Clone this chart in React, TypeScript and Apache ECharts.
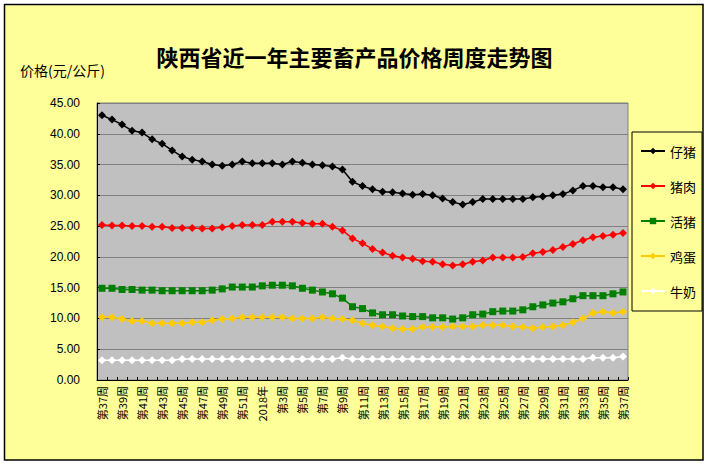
import React, { useEffect, useRef } from "react";
import * as echarts from "echarts";

const categories = [
  "第37周", "第38周", "第39周", "第40周", "第41周", "第42周", "第43周", "第44周",
  "第45周", "第46周", "第47周", "第48周", "第49周", "第50周", "第51周", "第52周",
  "2018年", "第2周", "第3周", "第4周", "第5周", "第6周", "第7周", "第8周",
  "第9周", "第10周", "第11周", "第12周", "第13周", "第14周", "第15周", "第16周",
  "第17周", "第18周", "第19周", "第20周", "第21周", "第22周", "第23周", "第24周",
  "第25周", "第26周", "第27周", "第28周", "第29周", "第30周", "第31周", "第32周",
  "第33周", "第34周", "第35周", "第36周", "第37周",
];

const piglet = [
  43.0, 42.3, 41.5, 40.5, 40.2, 39.1, 38.4, 37.3, 36.3, 35.8,
  35.5, 35.0, 34.8, 35.0, 35.5, 35.2, 35.2, 35.2, 35.0, 35.5,
  35.3, 35.0, 34.9, 34.7, 34.2, 32.2, 31.5,
  31.0, 30.6, 30.5, 30.3, 30.1, 30.2, 30.0, 29.5, 28.9, 28.5,
  28.9, 29.4, 29.4, 29.4, 29.4, 29.4, 29.7, 29.8, 30.0, 30.2,
  30.8, 31.5, 31.5, 31.3, 31.3, 31.0,
];

const pork = [
  25.2, 25.1, 25.1, 25.0, 25.0, 24.9, 24.9, 24.7, 24.7, 24.7,
  24.6, 24.6, 24.8, 25.0, 25.2, 25.2, 25.2, 25.7, 25.7, 25.7,
  25.5, 25.4, 25.4, 24.9, 24.3, 23.0,
  22.2, 21.3, 20.7, 20.2, 19.9, 19.7, 19.3, 19.2, 18.8, 18.6,
  18.8, 19.2, 19.4, 19.9, 19.9, 19.9, 20.0, 20.6, 20.8, 21.1,
  21.6, 22.1, 22.7, 23.2, 23.4, 23.6, 23.9,
];

const livePig = [
  14.9, 14.9, 14.7, 14.7, 14.6, 14.6, 14.5, 14.5, 14.5, 14.5,
  14.5, 14.6, 14.8, 15.1, 15.1, 15.1, 15.3, 15.4, 15.4, 15.3,
  14.9, 14.6, 14.3, 14.0, 13.3, 11.9, 11.6,
  10.9, 10.6, 10.6, 10.4, 10.3, 10.3, 10.1, 10.1, 9.9, 10.1,
  10.6, 10.7, 11.1, 11.2, 11.2, 11.4, 11.9, 12.2, 12.5, 12.7,
  13.2, 13.7, 13.7, 13.7, 14.0, 14.3,
];

const eggs = [
  10.2, 10.2, 9.9, 9.6, 9.6, 9.2, 9.2, 9.2, 9.2, 9.4,
  9.4, 9.7, 9.9, 10.0, 10.2, 10.2, 10.2, 10.2, 10.2, 10.0,
  10.0, 10.0, 10.2, 10.0, 9.9, 9.7, 9.2,
  8.9, 8.7, 8.4, 8.3, 8.3, 8.6, 8.6, 8.6, 8.7, 8.7,
  8.7, 8.9, 8.9, 8.9, 8.7, 8.6, 8.4, 8.6, 8.7, 8.9,
  9.4, 10.0, 10.9, 11.1, 10.9, 11.1,
];

const milk = [
  3.2, 3.2, 3.2, 3.2, 3.2, 3.2, 3.2, 3.2, 3.4, 3.4,
  3.4, 3.4, 3.4, 3.4, 3.4, 3.4, 3.4, 3.4, 3.4, 3.4,
  3.4, 3.4, 3.4, 3.4, 3.6, 3.4, 3.4,
  3.4, 3.4, 3.4, 3.4, 3.4, 3.4, 3.4, 3.4, 3.4, 3.4,
  3.4, 3.4, 3.4, 3.4, 3.4, 3.4, 3.4, 3.4, 3.4, 3.4,
  3.4, 3.4, 3.6, 3.6, 3.6, 3.8,
];

const seriesNames = ["仔猪", "猪肉", "活猪", "鸡蛋", "牛奶"];
const seriesColors = ["#000000", "#FF0000", "#008000", "#FFCC00", "#FFFFFF"];
const seriesSymbols = ["diamond", "diamond", "rect", "diamond", "diamond"];
const seriesData = [piglet, pork, livePig, eggs, milk];

const CJK = '"Noto Sans CJK SC", "Liberation Sans", sans-serif';

export default function App() {
  const ref = useRef<HTMLDivElement>(null);
  useEffect(() => {
    if (!ref.current) return;
    const chart = echarts.init(ref.current, null, { renderer: "svg" });
    chart.setOption({
      animation: false,
      backgroundColor: "#FFFFFF",
      title: {
        text: "陕西省近一年主要畜产品价格周度走势图",
        left: "center",
        top: 45,
        padding: 0,
        textStyle: { fontFamily: CJK, fontSize: 22, fontWeight: "bold", color: "#000" },
      },
      graphic: [
        {
          type: "rect",
          z: -100,
          shape: { x: 4.5, y: 4.5, width: 698.5, height: 455.5 },
          style: { fill: "#FFFF99", stroke: "#000", lineWidth: 1.5 },
        },
        {
          type: "text",
          left: 20,
          top: 63,
          style: { text: "价格(元/公斤)", font: `14px ${CJK}`, fill: "#000" },
        },
      ],
      legend: {
        orient: "vertical",
        left: 632,
        top: 132,
        padding: [12, 6, 13, 8],
        borderColor: "#000",
        borderWidth: 1,
        borderRadius: 0,
        itemWidth: 24,
        itemHeight: 8,
        itemGap: 21,
        textStyle: { fontFamily: CJK, fontSize: 13, color: "#000", lineHeight: 14 },
        data: seriesNames,
      },
      grid: {
        left: 97,
        top: 103,
        width: 531,
        height: 277,
        show: true,
        backgroundColor: "#C0C0C0",
        borderColor: "#808080",
        borderWidth: 1,
      },
      xAxis: {
        type: "category",
        data: categories,
        boundaryGap: true,
        axisLine: { lineStyle: { color: "#000", width: 1 } },
        axisTick: { show: true, inside: true, length: 3, interval: 0, lineStyle: { color: "#000" } },
        axisLabel: {
          interval: 1,
          rotate: 90,
          margin: 6,
          fontFamily: CJK,
          fontSize: 11,
          color: "#000",
        },
        splitLine: { show: false },
      },
      yAxis: {
        type: "value",
        min: 0,
        max: 45,
        interval: 5,
        axisLine: { show: true, lineStyle: { color: "#000", width: 1 } },
        axisTick: { show: true, inside: true, length: 3, lineStyle: { color: "#000" } },
        axisLabel: {
          margin: 17,
          fontFamily: '"Liberation Sans", sans-serif',
          fontSize: 12,
          color: "#000",
          formatter: (v: number) => v.toFixed(2),
        },
        splitLine: { show: true, lineStyle: { color: "#808080", width: 1 } },
      },
      series: seriesNames.map((name, i) => ({
        name,
        type: "line",
        data: seriesData[i],
        symbol: seriesSymbols[i],
        symbolSize: seriesSymbols[i] === "rect" ? 7 : 8,
        showAllSymbol: true,
        lineStyle: { color: seriesColors[i], width: 1.5 },
        itemStyle: { color: seriesColors[i], borderWidth: 0 },
        emphasis: { disabled: true },
      })),
    });
    return () => chart.dispose();
  }, []);
  return (
    <div
      ref={ref}
      style={{ position: "absolute", left: 0, top: 0, width: 709, height: 466 }}
    />
  );
}
